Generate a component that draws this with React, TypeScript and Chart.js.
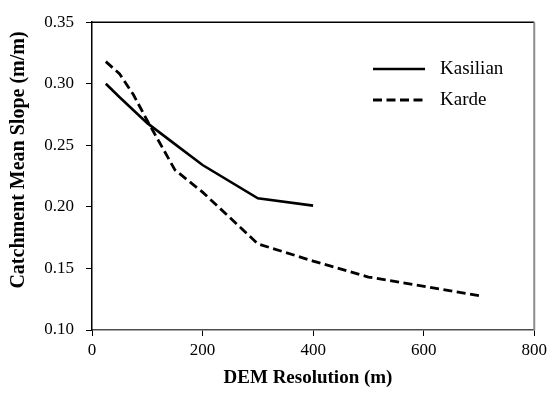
import React, { useEffect, useRef } from "react";
import { Chart, registerables } from "chart.js";

Chart.register(...registerables);

// DEM cell size (m) and catchment mean slope (m/m) for each catchment
const kasilianRes = [25, 50, 100, 150, 200, 300, 400];
const kasilianSlope = [0.3, 0.289, 0.268, 0.251, 0.234, 0.207, 0.201];
const kardeRes = [25, 50, 75, 100, 150, 200, 300, 400, 500, 700];
const kardeSlope = [0.318, 0.308, 0.291, 0.27, 0.23, 0.212, 0.17, 0.156, 0.143, 0.128];

const xTicks = [0, 200, 400, 600, 800];
const yTicks = [0.1, 0.15, 0.2, 0.25, 0.3, 0.35];

const seriesNames = ["Kasilian", "Karde"];
const xTitle = "DEM Resolution (m)";
const yTitle = "Catchment Mean Slope (m/m)";

const FONT = "'Liberation Serif', 'Times New Roman', serif";

// Axis titles, top/right frame and the in-plot legend
const decorations = {
  id: "decorations",
  afterDraw(chart: any) {
    const { ctx, chartArea } = chart;
    const { left, right, top, bottom } = chartArea;
    ctx.save();

    // frame
    ctx.strokeStyle = "#000";
    ctx.lineWidth = 1.5;
    ctx.beginPath();
    ctx.moveTo(left, top);
    ctx.lineTo(right, top);
    ctx.stroke();
    ctx.strokeStyle = "#8c8c8c";
    ctx.lineWidth = 2;
    ctx.beginPath();
    ctx.moveTo(right, top);
    ctx.lineTo(right, bottom);
    ctx.stroke();

    // axis titles
    ctx.fillStyle = "#000";
    ctx.textAlign = "center";
    ctx.textBaseline = "middle";
    ctx.font = `bold 19px ${FONT}`;
    ctx.fillText(xTitle, 308, 378);
    ctx.save();
    ctx.translate(19, 160);
    ctx.rotate(-Math.PI / 2);
    ctx.font = `bold 20px ${FONT}`;
    ctx.fillText(yTitle, 0, 0);
    ctx.restore();

    // legend
    const rows = [69, 100];
    chart.data.datasets.forEach((ds: any, i: number) => {
      const y = rows[i];
      ctx.strokeStyle = ds.borderColor;
      ctx.lineWidth = ds.borderWidth;
      ctx.setLineDash(ds.borderDash || []);
      ctx.beginPath();
      ctx.moveTo(373, y);
      ctx.lineTo(425, y);
      ctx.stroke();
      ctx.setLineDash([]);
      ctx.fillStyle = "#000";
      ctx.textAlign = "left";
      ctx.textBaseline = "middle";
      ctx.font = `19px ${FONT}`;
      ctx.fillText(ds.label, 440, y);
    });
    ctx.restore();
  },
};

export default function App() {
  const canvasRef = useRef<HTMLCanvasElement | null>(null);

  useEffect(() => {
    if (!canvasRef.current) return;
    const chart = new Chart(canvasRef.current, {
      type: "line",
      data: {
        datasets: [
          {
            label: seriesNames[0],
            data: kasilianRes.map((x, i) => ({ x, y: kasilianSlope[i] })),
            borderColor: "#000",
            borderWidth: 2.6,
            pointRadius: 0,
            tension: 0,
            fill: false,
          },
          {
            label: seriesNames[1],
            data: kardeRes.map((x, i) => ({ x, y: kardeSlope[i] })),
            borderColor: "#000",
            borderWidth: 2.8,
            borderDash: [9, 4.5],
            pointRadius: 0,
            tension: 0,
            fill: false,
          },
        ],
      },
      options: {
        responsive: false,
        animation: false,
        layout: { padding: { top: 16, right: 15, left: 0, bottom: 0 } },
        plugins: { legend: { display: false }, tooltip: { enabled: false } },
        scales: {
          x: {
            type: "linear",
            min: 0,
            max: 800,
            afterFit: (scale: any) => {
              scale.height = 68;
            },
            afterBuildTicks: (scale: any) => {
              scale.ticks = xTicks.map((v) => ({ value: v }));
            },
            ticks: {
              color: "#000",
              padding: 4,
              font: { family: FONT, size: 17 },
              maxRotation: 0,
              callback: (v: any) => String(v),
            },
            grid: {
              display: true,
              drawOnChartArea: false,
              drawTicks: true,
              tickLength: 6,
              color: "#000",
            },
            border: { display: true, color: "#4d4d4d", width: 1.5 },
          },
          y: {
            type: "linear",
            min: 0.1,
            max: 0.35,
            afterFit: (scale: any) => {
              scale.width = 92;
            },
            afterBuildTicks: (scale: any) => {
              scale.ticks = yTicks.map((v) => ({ value: v }));
            },
            ticks: {
              color: "#000",
              padding: 12,
              font: { family: FONT, size: 17 },
              callback: (v: any) => Number(v).toFixed(2),
            },
            grid: {
              display: true,
              drawOnChartArea: false,
              drawTicks: true,
              tickLength: 6,
              color: "#000",
            },
            border: { display: true, color: "#000", width: 1.5 },
          },
        },
      },
      plugins: [decorations],
    });
    return () => chart.destroy();
  }, []);

  return (
    <div style={{ position: "fixed", left: 0, top: 0, width: 551, height: 398, background: "#fff" }}>
      <canvas ref={canvasRef} width={551} height={398} style={{ display: "block" }} />
    </div>
  );
}
